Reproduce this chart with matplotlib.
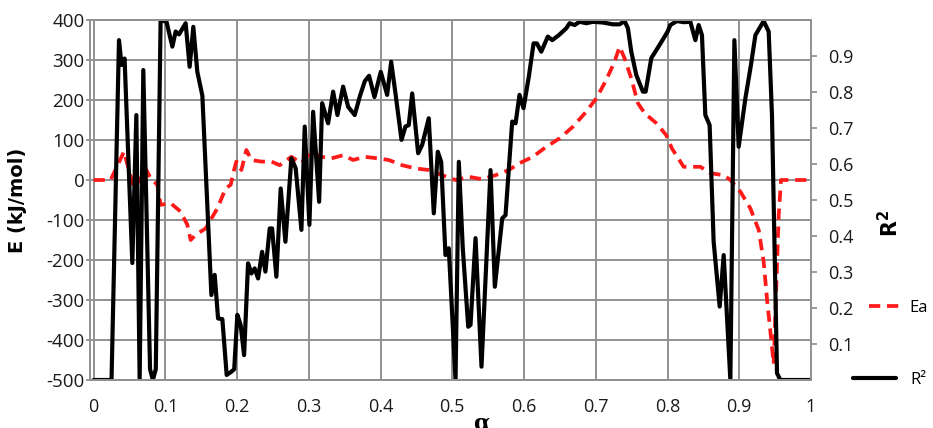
import matplotlib
matplotlib.use("Agg")
import matplotlib.pyplot as plt

# Conversion degree and the two series plotted against it
alpha_ea = [0.0, 0.0237, 0.0424, 0.046, 0.0563, 0.0656, 0.0725, 0.0795, 0.0888, 0.0934,
            0.1074, 0.1213, 0.1307, 0.1353, 0.1423, 0.1562, 0.1725, 0.1841, 0.1911, 0.195,
            0.199, 0.206, 0.213, 0.22, 0.234, 0.248, 0.2594, 0.2757, 0.2897, 0.3036,
            0.3176, 0.3315, 0.3478, 0.3618, 0.378, 0.3967, 0.4114, 0.4301, 0.4487, 0.4672,
            0.4859, 0.5045, 0.523, 0.5417, 0.5603, 0.5788, 0.5937, 0.6123, 0.631, 0.6495,
            0.668, 0.6868, 0.7007, 0.7146, 0.7262, 0.7332, 0.7402, 0.7495, 0.7587, 0.7681,
            0.7844, 0.7983, 0.8061, 0.8225, 0.8318, 0.8458, 0.8597, 0.8783, 0.8876, 0.9015,
            0.9155, 0.9271, 0.934, 0.9386, 0.9434, 0.948, 0.9503, 0.955, 0.9582, 1.0]
ea = [0, 0, 71, 46, -21, 4, 29, 4, -12, -62,
      -58, -79, -112, -150, -137, -121, -71, -21, -12, 20,
      46, 25, 75, 50, 46, 46, 37, 58, 42, 71,
      58, 54, 62, 50, 58, 54, 50, 37, 29, 25,
      12, 0, 8, 2, 12, 25, 42, 58, 83, 104,
      133, 171, 204, 250, 296, 333, 304, 254, 192, 167,
      142, 112, 79, 33, 33, 33, 17, 12, 0, -29,
      -71, -125, -204, -296, -379, -460, -337, -87, 0, 0]

alpha_r2 = [0.0, 0.025, 0.0354, 0.039, 0.0432, 0.054, 0.0596, 0.0642, 0.0693, 0.0787,
            0.0826, 0.0867, 0.0934, 0.1014, 0.1098, 0.1144, 0.1191, 0.1283, 0.1339, 0.139,
            0.1446, 0.1516, 0.1642, 0.1688, 0.1735, 0.1795, 0.1855, 0.192, 0.196, 0.2004,
            0.205, 0.2098, 0.2153, 0.22, 0.2245, 0.2293, 0.2349, 0.2395, 0.2455, 0.2488,
            0.2548, 0.2608, 0.2674, 0.2757, 0.2817, 0.2897, 0.2943, 0.3008, 0.306, 0.3144,
            0.3186, 0.3269, 0.3339, 0.3399, 0.3478, 0.3548, 0.364, 0.371, 0.378, 0.384,
            0.3915, 0.4003, 0.4092, 0.4148, 0.4208, 0.4292, 0.4347, 0.4393, 0.4441, 0.4524,
            0.458, 0.4672, 0.4742, 0.4798, 0.4845, 0.4905, 0.4951, 0.5045, 0.5091, 0.5146,
            0.5222, 0.5254, 0.5324, 0.5407, 0.5533, 0.5593, 0.5696, 0.5742, 0.5835, 0.5882,
            0.5937, 0.5993, 0.6067, 0.6133, 0.6179, 0.624, 0.6332, 0.6393, 0.6485, 0.6589,
            0.6635, 0.6704, 0.6774, 0.6868, 0.696, 0.7099, 0.7238, 0.7332, 0.7402, 0.7448,
            0.7495, 0.7565, 0.7657, 0.7695, 0.7774, 0.789, 0.8002, 0.8039, 0.8131, 0.8225,
            0.8318, 0.8388, 0.8434, 0.848, 0.8527, 0.8587, 0.8643, 0.8727, 0.8783, 0.8876,
            0.8932, 0.8992, 0.9085, 0.9163, 0.9225, 0.934, 0.941, 0.9456, 0.9526, 0.9573,
            1.0]
r2 = [0.0, 0.0, 0.944, 0.875, 0.893, 0.325, 0.736, 0.0, 0.861, 0.03,
      0.0, 0.03, 0.997, 0.997, 0.926, 0.968, 0.96, 0.991, 0.87, 0.981,
      0.856, 0.79, 0.236, 0.292, 0.171, 0.169, 0.014, 0.023, 0.03, 0.181,
      0.153, 0.069, 0.324, 0.296, 0.31, 0.282, 0.356, 0.301, 0.421, 0.421,
      0.287, 0.532, 0.384, 0.616, 0.588, 0.417, 0.704, 0.431, 0.745, 0.495,
      0.769, 0.713, 0.801, 0.736, 0.815, 0.759, 0.736, 0.787, 0.83, 0.845,
      0.786, 0.856, 0.792, 0.884, 0.796, 0.667, 0.704, 0.708, 0.796, 0.63,
      0.653, 0.727, 0.463, 0.634, 0.606, 0.347, 0.366, 0.0, 0.606, 0.366,
      0.148, 0.153, 0.394, 0.037, 0.583, 0.259, 0.449, 0.458, 0.718, 0.713,
      0.792, 0.755, 0.843, 0.935, 0.935, 0.912, 0.954, 0.944, 0.958, 0.977,
      0.991, 0.986, 0.995, 0.991, 0.995, 0.993, 0.988, 0.988, 0.997, 0.977,
      0.912, 0.847, 0.801, 0.801, 0.894, 0.931, 0.968, 0.986, 0.997, 0.994,
      0.995, 0.944, 0.986, 0.958, 0.736, 0.708, 0.384, 0.204, 0.347, 0.0,
      0.944, 0.648, 0.782, 0.875, 0.958, 0.997, 0.968, 0.736, 0.019, 0.0,
      0.0]

x_ticks = [0, 0.1, 0.2, 0.3, 0.4, 0.5, 0.6, 0.7, 0.8, 0.9, 1.0]
x_tick_labels = ["0", "0.1", "0.2", "0.3", "0.4", "0.5", "0.6", "0.7", "0.8", "0.9", "1"]
e_ticks = list(range(-500, 401, 100))
r2_ticks = [0.1, 0.2, 0.3, 0.4, 0.5, 0.6, 0.7, 0.8, 0.9]

tick_font = "Open Sans"
grid_col = "#929292"
text_col = "#1a1a1a"

fig = plt.figure(figsize=(9.33, 4.28), dpi=100)
ax = fig.add_axes([90 / 933, 48 / 428, 721 / 933, 360 / 428])
ax2 = ax.twinx()

ax.set_xlim(-0.005, 1.0)
ax.set_ylim(-500, 400)
ax2.set_ylim(0, 1.0)

ax.set_xticks(x_ticks)
ax.set_xticklabels(x_tick_labels, fontname=tick_font, fontsize=13)
ax.set_yticks(e_ticks)
ax.set_yticklabels([str(v) for v in e_ticks], fontname=tick_font, fontsize=13.5)
ax2.set_yticks(r2_ticks)
ax2.set_yticklabels([f"{v:.1f}" for v in r2_ticks], fontname=tick_font, fontsize=13)

ax.grid(True, color=grid_col, linewidth=1.4)
ax.set_axisbelow(True)
ax.tick_params(axis="x", length=0, pad=13, labelcolor=text_col)
ax.tick_params(axis="y", length=3, width=1.3, color=grid_col, pad=1, labelcolor=text_col)
ax2.tick_params(axis="y", length=4, width=1.3, color=grid_col, pad=8, labelcolor=text_col)

for a in (ax, ax2):
    for s in a.spines.values():
        s.set_color(grid_col)
        s.set_linewidth(1.4)

ea_line, = ax.plot(alpha_ea, ea, color="#ff1a1a", linewidth=2.7,
                   linestyle=(0, (3, 1.8)), dash_capstyle="butt", zorder=3)
r2_line, = ax2.plot(alpha_r2, r2, color="black", linewidth=3.0,
                    solid_joinstyle="round", solid_capstyle="round", zorder=2)

ax.set_ylabel("E (kJ/mol)", fontname="DejaVu Sans", fontweight="bold", fontsize=14)
ax.yaxis.set_label_coords(-0.088, 0.5)
ax2.set_ylabel("R$^{\\mathbf{2}}$", fontname="DejaVu Sans", fontweight="bold", fontsize=15)
ax2.yaxis.set_label_coords(1.092, 0.436)
fig.text(482 / 933, 1 - 423 / 428, "α", fontname="DejaVu Serif", fontweight="bold",
         fontsize=16, ha="center", va="center")

legend_font = {"family": tick_font, "size": 12}
fig.legend([ea_line], ["Ea"], loc="center left",
           bbox_to_anchor=(869 / 933, 1 - 308 / 428), frameon=False,
           prop=legend_font, handlelength=2.1, handletextpad=0.3,
           borderaxespad=0, borderpad=0)
fig.legend([r2_line], ["R²"], loc="center left",
           bbox_to_anchor=(853 / 933, 1 - 380 / 428), frameon=False,
           prop=legend_font, handlelength=2.6, handletextpad=0.85,
           borderaxespad=0, borderpad=0)

fig.savefig("out.png", dpi=100)
